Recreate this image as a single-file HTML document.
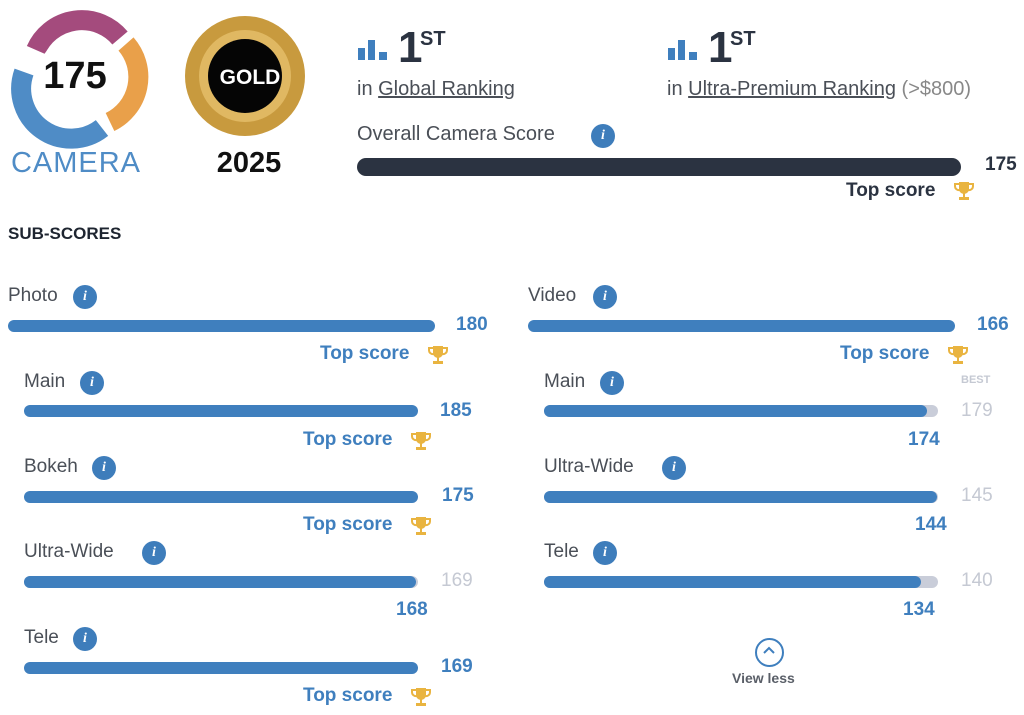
<!DOCTYPE html>
<html><head><meta charset="utf-8"><style>
body{margin:0;width:1024px;height:715px;background:#fff;position:relative;overflow:hidden;font-family:"Liberation Sans",sans-serif}
.a{position:absolute;white-space:nowrap}
.lbl{font-size:19px;color:#4a4f57;line-height:24px}
.i{position:absolute;width:24px;height:24px;border-radius:50%;background:#3e7dbb;color:#fff;font:italic bold 14px/24px "Liberation Serif",serif;text-align:center}
.bar{position:absolute;height:12px;border-radius:6px;background:#3f7fbe}
.bg{position:absolute;height:12px;border-radius:6px;background:#c9cdd9}
.v{font-size:19px;font-weight:bold;color:#3f7fbe;line-height:24px}
.g{font-size:19px;color:#c5c9d3;line-height:24px}
.ts{font-size:19px;font-weight:bold;color:#3f7fbe;line-height:24px}
.tr{position:absolute}
</style></head><body>
<svg width="0" height="0" style="position:absolute"><defs><symbol id="t" viewBox="0 0 22 22"><path d="M6 2h10v7a5 5 0 0 1-10 0z" fill="#e9b440"/><path d="M6 4H2v2a4 4 0 0 0 5 4M16 4h4v2a4 4 0 0 1-5 4" stroke="#e9b440" stroke-width="2" fill="none"/><rect x="10" y="13" width="2" height="4" fill="#e9b440"/><rect x="6" y="17" width="10" height="3" fill="#e9b440"/></symbol></defs></svg>
<svg class="a" style="left:0;top:0" width="330" height="190">
<g fill="none" stroke-width="20">
<path d="M36 50 A50 50 0 0 1 120 38" stroke="#a44b7d"/>
<path d="M126 44 A50 50 0 0 1 110 122" stroke="#e9a04a"/>
<path d="M102 128 A50 50 0 0 1 24 72" stroke="#4f8cc6"/>
</g>
<circle cx="75" cy="73" r="36" fill="#fff"/>
<text x="75" y="88" font-family="Liberation Sans" font-weight="bold" font-size="38" text-anchor="middle" fill="#111">175</text>
<text x="76" y="172" font-family="Liberation Sans" font-size="29" text-anchor="middle" fill="#4f8cc6" letter-spacing="1">CAMERA</text>
<circle cx="245" cy="76" r="60" fill="#c89a3e"/>
<circle cx="245" cy="76" r="46" fill="#e0b862"/>
<circle cx="245" cy="76" r="37" fill="#050505"/>
<text x="250" y="84" font-family="Liberation Sans" font-weight="bold" font-size="21" text-anchor="middle" fill="#fff">GOLD</text>
<text x="249" y="172" font-family="Liberation Sans" font-weight="bold" font-size="29" text-anchor="middle" fill="#111">2025</text>
</svg>

<div class="a" style="left:358px;top:48px;width:7px;height:12px;background:#3f7fbe"></div>
<div class="a" style="left:368px;top:40px;width:7px;height:20px;background:#3f7fbe"></div>
<div class="a" style="left:379px;top:52px;width:8px;height:8px;background:#3f7fbe"></div>
<div class="a" style="left:398px;top:24px;font-size:44px;font-weight:bold;color:#2b3341;line-height:48px">1</div>
<div class="a" style="left:420px;top:28px;font-size:20px;font-weight:bold;color:#2b3341">ST</div>
<div class="a lbl" style="left:357px;top:77px;font-size:20px">in <u>Global Ranking</u></div>
<div class="a" style="left:668px;top:48px;width:7px;height:12px;background:#3f7fbe"></div>
<div class="a" style="left:678px;top:40px;width:7px;height:20px;background:#3f7fbe"></div>
<div class="a" style="left:689px;top:52px;width:8px;height:8px;background:#3f7fbe"></div>
<div class="a" style="left:708px;top:24px;font-size:44px;font-weight:bold;color:#2b3341;line-height:48px">1</div>
<div class="a" style="left:730px;top:28px;font-size:20px;font-weight:bold;color:#2b3341">ST</div>
<div class="a lbl" style="left:667px;top:77px;font-size:20px">in <u>Ultra-Premium Ranking</u> <span style="color:#888">(&gt;$800)</span></div>

<div class="a lbl" style="left:357px;top:122px;font-size:20px">Overall Camera Score</div>
<div class="i" style="left:591px;top:124px">i</div>
<div class="a" style="left:357px;top:158px;width:604px;height:18px;border-radius:9px;background:#2b3341"></div>
<div class="a" style="left:985px;top:153px;font-size:19px;font-weight:bold;color:#2b3341;line-height:24px">175</div>
<div class="a" style="left:846px;top:179px;font-size:19px;font-weight:bold;color:#2b3341;line-height:24px">Top score</div>
<svg class="tr" style="left:953px;top:180px" width="22" height="22"><use href="#t"/></svg>

<div class="a" style="left:8px;top:224px;font-size:17px;font-weight:bold;color:#1e2530">SUB-SCORES</div>

<div class="a lbl" style="left:8px;top:284px">Photo</div><div class="i" style="left:73px;top:285px">i</div>
<div class="bar" style="left:8px;top:320px;width:427px"></div>
<div class="a v" style="left:456px;top:313px">180</div>
<div class="a ts" style="left:320px;top:342px">Top score</div><svg class="tr" style="left:427px;top:344px" width="22" height="22"><use href="#t"/></svg>

<div class="a lbl" style="left:24px;top:370px">Main</div><div class="i" style="left:80px;top:371px">i</div>
<div class="bar" style="left:24px;top:405px;width:394px"></div>
<div class="a v" style="left:440px;top:399px">185</div>
<div class="a ts" style="left:303px;top:428px">Top score</div><svg class="tr" style="left:410px;top:430px" width="22" height="22"><use href="#t"/></svg>

<div class="a lbl" style="left:24px;top:455px">Bokeh</div><div class="i" style="left:92px;top:456px">i</div>
<div class="bar" style="left:24px;top:491px;width:394px"></div>
<div class="a v" style="left:442px;top:484px">175</div>
<div class="a ts" style="left:303px;top:513px">Top score</div><svg class="tr" style="left:410px;top:515px" width="22" height="22"><use href="#t"/></svg>

<div class="a lbl" style="left:24px;top:540px">Ultra-Wide</div><div class="i" style="left:142px;top:541px">i</div>
<div class="bg" style="left:24px;top:576px;width:394px"></div>
<div class="bar" style="left:24px;top:576px;width:392px"></div>
<div class="a g" style="left:441px;top:569px">169</div>
<div class="a v" style="left:396px;top:598px">168</div>

<div class="a lbl" style="left:24px;top:626px">Tele</div><div class="i" style="left:73px;top:627px">i</div>
<div class="bar" style="left:24px;top:662px;width:394px"></div>
<div class="a v" style="left:441px;top:655px">169</div>
<div class="a ts" style="left:303px;top:684px">Top score</div><svg class="tr" style="left:410px;top:686px" width="22" height="22"><use href="#t"/></svg>

<div class="a lbl" style="left:528px;top:284px">Video</div><div class="i" style="left:593px;top:285px">i</div>
<div class="bar" style="left:528px;top:320px;width:427px"></div>
<div class="a v" style="left:977px;top:313px">166</div>
<div class="a ts" style="left:840px;top:342px">Top score</div><svg class="tr" style="left:947px;top:344px" width="22" height="22"><use href="#t"/></svg>

<div class="a lbl" style="left:544px;top:370px">Main</div><div class="i" style="left:600px;top:371px">i</div>
<div class="a" style="left:961px;top:374px;font-size:11px;font-weight:bold;color:#c5c9d3">BEST</div>
<div class="bg" style="left:544px;top:405px;width:394px"></div>
<div class="bar" style="left:544px;top:405px;width:383px"></div>
<div class="a g" style="left:961px;top:399px">179</div>
<div class="a v" style="left:908px;top:428px">174</div>

<div class="a lbl" style="left:544px;top:455px">Ultra-Wide</div><div class="i" style="left:662px;top:456px">i</div>
<div class="bg" style="left:544px;top:491px;width:394px"></div>
<div class="bar" style="left:544px;top:491px;width:393px"></div>
<div class="a g" style="left:961px;top:484px">145</div>
<div class="a v" style="left:915px;top:513px">144</div>

<div class="a lbl" style="left:544px;top:540px">Tele</div><div class="i" style="left:593px;top:541px">i</div>
<div class="bg" style="left:544px;top:576px;width:394px"></div>
<div class="bar" style="left:544px;top:576px;width:377px"></div>
<div class="a g" style="left:961px;top:569px">140</div>
<div class="a v" style="left:903px;top:598px">134</div>

<div class="a" style="left:755px;top:638px;width:25px;height:25px;border:2px solid #3f7fbe;border-radius:50%"></div>
<svg class="a" style="left:762px;top:646px" width="14" height="10"><path d="M2 7 L7 2 L12 7" stroke="#3f7fbe" stroke-width="2" fill="none"/></svg>
<div class="a" style="left:732px;top:670px;font-size:14px;font-weight:bold;color:#5a5f68">View less</div>
</body></html>
